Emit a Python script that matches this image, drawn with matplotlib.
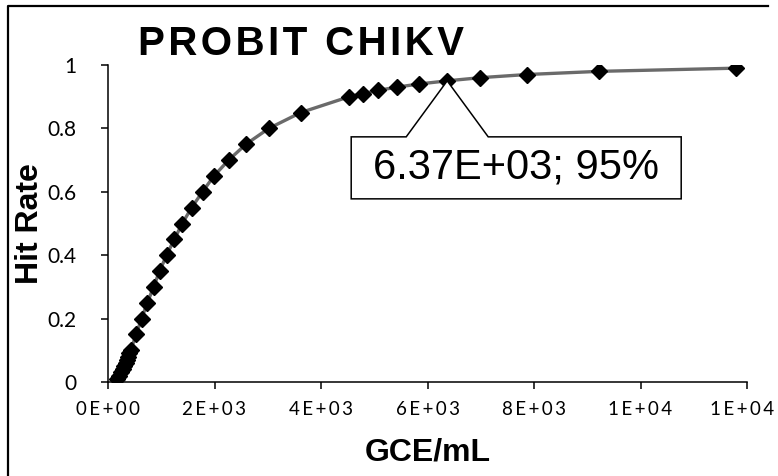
import matplotlib
matplotlib.use("Agg")
import matplotlib.pyplot as plt
import matplotlib.transforms as mtransforms
from matplotlib.patches import Polygon
from matplotlib.lines import Line2D

# probit fit points: concentration (GCE/mL) vs hit rate
hit_rate = [0.01, 0.02, 0.03, 0.04, 0.05, 0.06, 0.07, 0.08, 0.09, 0.10,
            0.15, 0.20, 0.25, 0.30, 0.35, 0.40, 0.45, 0.50, 0.55, 0.60,
            0.65, 0.70, 0.75, 0.80, 0.85, 0.90,
            0.91, 0.92, 0.93, 0.94, 0.95, 0.96, 0.97, 0.98, 0.99]
gce_ml = [160, 205, 245, 275, 305, 330, 355, 380, 400, 425,
          530, 630, 740, 855, 970, 1100, 1245, 1395, 1570, 1775,
          1990, 2265, 2590, 3020, 3620, 4530,
          4790, 5075, 5420, 5835, 6370, 6990, 7870, 9230, 11800]

x_ticks = [0, 2000, 4000, 6000, 8000, 10000, 12000]
x_tick_labels = ["0E+00", "2E+03", "4E+03", "6E+03", "8E+03", "1E+04", "1E+04"]
y_ticks = [0, 0.2, 0.4, 0.6, 0.8, 1]
y_tick_labels = ["0", "0.2", "0.4", "0.6", "0.8", "1"]

lod_x = 6370
lod_y = 0.95
lod_label = "6.37E+03; 95%"
title = "PROBIT CHIKV"

W, H = 778, 476
fig = plt.figure(figsize=(W / 100, H / 100), dpi=100)
ax = fig.add_axes([108 / W, 1 - 382 / H, (747 - 108) / W, (382 - 65) / H])

ax.plot(gce_ml, hit_rate, color="#6a6a6a", lw=2.4, zorder=2)
ax.plot(gce_ml, hit_rate, ls="none", marker="D", ms=8, color="black",
        mec="black", mew=1, zorder=3)

ax.set_xlim(0, 12000)
ax.set_ylim(0, 1)
ax.set_xticks(x_ticks)
ax.set_xticklabels(["\u2009".join(s) for s in x_tick_labels],
                   family=["Lato", "DejaVu Sans"], fontsize=13.5)
ax.set_yticks(y_ticks)
ax.set_yticklabels(y_tick_labels, family=["Lato", "DejaVu Sans"], fontsize=15)
ax.tick_params(axis="x", direction="out", length=5, width=1.1, pad=9)
ax.tick_params(axis="y", direction="out", length=5, width=1.1, pad=18)
for s in ["top", "right"]:
    ax.spines[s].set_visible(False)
for s in ["left", "bottom"]:
    ax.spines[s].set_linewidth(1.1)

# last label sits at the right edge, nudge it in a bit
last = ax.get_xticklabels()[-1]
last.set_transform(last.get_transform() + mtransforms.Affine2D().translate(-5, 0))

ax.set_xlabel("GCE/mL", family="Liberation Sans", fontweight="bold", fontsize=23)
ax.xaxis.set_label_coords(0.5, -0.221)
ax.xaxis.label.set_va("center")
ax.set_ylabel("Hit Rate", family="Liberation Sans", fontweight="bold", fontsize=23)
ax.yaxis.set_label_coords(-0.122, 0.5)
ax.yaxis.label.set_va("center")

fig.text(301 / W, 1 - 44 / H, "\u200a".join(title), family=["Liberation Sans", "DejaVu Sans"],
         fontweight="bold", fontsize=29, ha="center", va="center")

# callout box pointing at the 95% point (offsets in pixels from the point)
trans = mtransforms.ScaledTranslation(lod_x, lod_y, ax.transData)
callout = [(-96, -56), (-41, -56), (0, 0), (41, -56), (234, -56),
           (234, -118), (-96, -118)]
ax.add_patch(Polygon(callout, closed=True, facecolor="white", edgecolor="black",
                     lw=1.1, transform=trans, clip_on=False, zorder=4))
ax.annotate(lod_label, xy=(lod_x, lod_y), xytext=(69 * 0.72, -87 * 0.72),
            textcoords="offset points", ha="center", va="center",
            family="Liberation Sans", fontsize=30, zorder=5)

# chart area border (left and top edges visible)
fig.add_artist(Line2D([8 / W, 8 / W, 768 / W], [0, 1 - 6 / H, 1 - 6 / H],
                      color="black", lw=1.6, transform=fig.transFigure))

fig.savefig("out.png", dpi=100)
